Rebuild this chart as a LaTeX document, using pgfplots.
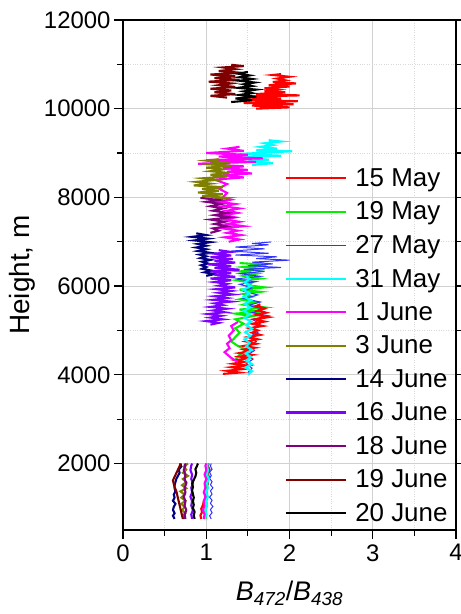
\documentclass[border=0pt]{standalone}
\usepackage{pgfplots}
\pgfplotsset{compat=1.18}
\usepackage{fontspec}
\setmainfont{Liberation Sans}
\definecolor{cRed}{RGB}{255,0,0}
\definecolor{cGreen}{RGB}{0,240,0}
\definecolor{cBlue}{RGB}{50,50,255}
\definecolor{cCyan}{RGB}{0,255,255}
\definecolor{cMag}{RGB}{255,0,255}
\definecolor{cOlive}{RGB}{128,128,0}
\definecolor{cNavy}{RGB}{0,0,128}
\definecolor{cViolet}{RGB}{128,0,255}
\definecolor{cPurple}{RGB}{128,0,128}
\definecolor{cBrown}{RGB}{128,0,0}
\pgfplotsset{thk/.style={line width=2.1bp}, thn/.style={line width=1.0bp}}
\begin{document}
\begin{tikzpicture}
\begin{axis}[
  scale only axis,
  width=333bp, height=510bp,
  xmin=0, xmax=4, ymin=500, ymax=12000,
  xtick={0,1,2,3,4}, minor x tick num=1,
  ytick={2000,4000,6000,8000,10000,12000}, minor y tick num=1,
  scaled y ticks=false, scaled x ticks=false,
  xtick pos=bottom, ytick pos=both,
  tick align=outside,
  major tick length=9bp, minor tick length=6bp,
  every tick/.style={black, line width=1.2bp},
  axis line style={line width=1.6bp},
  grid=both,
  major grid style={color=black!18, line width=0.8bp},
  minor grid style={color=black!15, dotted, line width=0.8bp},
  /pgf/number format/assume math mode=true,
  /pgf/number format/1000 sep={},
  ticklabel style={font=\fontsize{24}{28}\selectfont},
  xticklabel style={yshift=-2bp},
  xlabel={\textit{B}\textsubscript{\textit{472}}/\textit{B}\textsubscript{\textit{438}}},
  ylabel={Height, m},
  xlabel style={font=\fontsize{27}{30}\selectfont, at={(axis description cs:0.5,-0.139)}, anchor=base},
  ylabel style={font=\fontsize{28}{30}\selectfont, at={(axis description cs:-0.303,0.5)}, anchor=center},
  legend cell align=left,
  legend image code/.code={\draw[#1] (0bp,0bp) -- (60bp,0bp);},
  legend style={draw=none, fill=none, font=\fontsize{26}{28}\selectfont,
    anchor=north east, at={(rel axis cs:0.99,0.717)},
    row sep=10bp,
    /tikz/every odd column/.append style={column sep=6bp}},
]
% 15 May
\addplot[color=cRed, thk] coordinates {
(1.60,10000)(2.00,10030)(1.55,10070)(2.05,10100)(1.45,10130)(2.10,10170)(1.40,10200)(1.90,10230)(1.50,10270)(2.12,10300)(1.60,10330)(1.95,10370)(1.70,10400)(1.85,10430)(1.70,10460)(2.00,10500)(1.75,10530)(2.08,10570)(1.80,10600)(1.95,10640)(1.85,10680)(2.00,10720)(1.80,10760)(1.90,10780)};
\addlegendentry{15 May}
% 19 May
\addplot[color=cGreen, thk] coordinates {
(1.35,4350)(1.40,4450)(1.48,4560)(1.38,4650)(1.30,4750)(1.35,4850)(1.40,4950)(1.35,5050)(1.45,5150)(1.35,5250)(1.55,5320)(1.35,5380)(1.65,5420)(1.40,5470)(1.70,5520)(1.45,5580)(1.60,5640)(1.40,5700)(1.55,5760)(1.45,5820)(1.65,5870)(1.40,5920)(1.70,5970)(1.50,6020)(1.55,6080)(1.40,6120)(1.65,6170)(1.45,6230)(1.60,6280)(1.40,6330)(1.70,6380)(1.45,6430)(1.72,6480)(1.40,6520)};
\addlegendentry{19 May}
% 27 May
\addplot[color=cBlue, thn] coordinates {
(1.50,4050)(1.55,4150)(1.48,4250)(1.56,4350)(1.50,4450)(1.58,4550)(1.52,4650)(1.60,4750)(1.50,4850)(1.62,4950)(1.55,5050)(1.65,5150)(1.55,5250)(1.75,5330)(1.55,5400)(1.70,5480)(1.50,5560)(1.65,5640)(1.45,5720)(1.62,5800)(1.45,5880)(1.55,5960)(1.40,6040)(1.60,6100)(1.35,6160)(1.65,6220)(1.40,6280)(1.70,6330)(1.45,6380)(1.90,6420)(1.50,6460)(1.80,6500)(1.55,6540)(2.00,6585)(1.60,6620)(1.85,6660)(1.35,6700)(1.75,6740)(1.30,6790)(1.70,6840)(1.35,6880)(1.75,6930)(1.55,6960)(1.78,6995)};
\addlegendentry{27 May}
% 31 May
\addplot[color=cCyan, thk] coordinates {
(1.55,8730)(1.80,8770)(1.50,8810)(1.75,8850)(1.45,8900)(1.90,8940)(1.40,8980)(2.03,9040)(1.60,9060)(1.85,9100)(1.65,9140)(1.80,9180)(1.70,9220)(1.90,9260)(1.75,9290)};
\addlegendentry{31 May}
% 1 June
\addplot[color=cMag, thk] coordinates {
(1.27,7000)(1.40,7050)(1.22,7100)(1.42,7150)(1.25,7200)(1.38,7250)(1.20,7300)(1.45,7350)(1.25,7400)(1.40,7450)(1.22,7500)(1.35,7550)(1.20,7600)(1.38,7650)(1.25,7700)(1.40,7750)(1.20,7800)(1.35,7850)(1.15,7900)(1.30,7950)(1.20,8000)(1.25,8100)(1.15,8200)(1.25,8300)(1.10,8400)(1.45,8450)(1.20,8500)(1.55,8540)(1.25,8580)(1.50,8620)(1.20,8660)(1.45,8700)(0.90,8760)(1.60,8800)(1.00,8840)(1.68,8880)(1.15,8920)(1.50,8960)(1.00,9000)(1.45,9050)(1.25,9100)(1.40,9140)};
\addlegendentry{1 June}
% 3 June
\addplot[color=cOlive, thk] coordinates {
(1.10,7950)(1.25,7990)(0.95,8030)(1.20,8070)(0.90,8110)(1.15,8150)(0.95,8190)(1.20,8230)(0.85,8270)(1.05,8310)(0.88,8350)(1.10,8390)(0.95,8430)(1.25,8470)(1.05,8510)(1.28,8550)(1.05,8590)(1.20,8630)(1.00,8670)(1.30,8710)(1.05,8750)(1.20,8790)(1.00,8830)(1.15,8860)};
\addlegendentry{3 June}
% 14 June
\addplot[color=cNavy, thk] coordinates {
(1.00,6230)(1.10,6270)(0.98,6310)(1.06,6350)(0.95,6390)(1.00,6430)(0.94,6470)(1.02,6510)(0.95,6550)(1.05,6590)(0.93,6630)(1.00,6670)(0.92,6710)(1.05,6750)(0.90,6790)(1.00,6830)(0.88,6870)(1.00,6910)(0.90,6950)(1.05,6990)(0.86,7030)(1.02,7070)(0.83,7110)(1.00,7150)(0.88,7190)};
\addlegendentry{14 June}
% 16 June
\addplot[color=cViolet, thk] coordinates {
(1.05,5130)(1.15,5170)(1.00,5210)(1.20,5250)(1.05,5290)(1.18,5330)(1.02,5370)(1.22,5410)(1.08,5450)(1.25,5490)(1.05,5530)(1.20,5570)(1.10,5610)(1.30,5650)(1.08,5690)(1.25,5730)(1.10,5770)(1.32,5810)(1.15,5850)(1.30,5890)(1.12,5930)(1.35,5970)(1.15,6010)(1.25,6050)(1.10,6090)(1.30,6130)(1.05,6170)(1.35,6210)(1.10,6250)(1.30,6290)(1.05,6330)(1.40,6370)(1.10,6410)(1.30,6450)(1.02,6490)(1.35,6530)(1.10,6570)(1.32,6610)(1.05,6650)(1.30,6690)(1.10,6730)(1.30,6770)(1.15,6810)};
\addlegendentry{16 June}
% 18 June
\addplot[color=cPurple, thk] coordinates {
(1.05,7200)(1.15,7250)(1.08,7300)(1.25,7350)(1.10,7400)(1.22,7450)(1.05,7500)(1.28,7550)(1.10,7600)(1.25,7650)(1.08,7700)(1.20,7750)(1.05,7800)(1.18,7850)(1.00,7900)(1.15,7940)(0.93,7990)};
\addlegendentry{18 June}
% 19 June
\addplot[color=cBrown, thk] coordinates {
(1.25,10250)(1.05,10290)(1.35,10330)(1.10,10370)(1.30,10410)(1.05,10450)(1.35,10490)(1.15,10530)(1.30,10570)(1.03,10610)(1.40,10650)(1.10,10690)(1.35,10730)(1.05,10770)(1.42,10810)(1.15,10850)(1.35,10890)(1.20,10930)(1.45,10960)(1.30,10990)};
\addlegendentry{19 June}
% 20 June
\addplot[color=black, thk] coordinates {
(1.30,10150)(1.55,10190)(1.35,10230)(1.60,10270)(1.40,10310)(1.55,10350)(1.45,10390)(1.60,10430)(1.38,10470)(1.55,10510)(1.45,10550)(1.58,10590)(1.40,10630)(1.55,10670)(1.40,10710)(1.52,10750)(1.38,10790)(1.50,10830)};
\addlegendentry{20 June}
% ---- further segments (no legend entries) ----
\addplot[color=cRed, thk, forget plot] coordinates {
(1.20,4020)(1.40,4050)(1.25,4090)(1.45,4130)(1.30,4170)(1.48,4210)(1.32,4250)(1.45,4290)(1.35,4330)(1.50,4370)(1.40,4410)(1.55,4450)(1.40,4490)(1.52,4530)(1.45,4570)(1.58,4610)(1.45,4650)(1.60,4700)(1.48,4750)(1.62,4800)(1.50,4850)(1.65,4900)(1.55,4950)(1.62,5000)(1.52,5050)(1.68,5100)(1.55,5150)(1.70,5200)(1.58,5250)(1.75,5300)(1.60,5350)(1.72,5400)(1.62,5450)(1.70,5500)(1.60,5550)(1.65,5590)};
\addplot[color=cCyan, thk, forget plot] coordinates {
(1.50,4000)(1.55,4080)(1.47,4160)(1.55,4240)(1.48,4320)(1.54,4400)(1.47,4480)(1.55,4560)(1.48,4640)(1.52,4720)(1.46,4800)(1.53,4880)(1.47,4960)(1.55,5040)(1.48,5120)(1.54,5200)(1.46,5280)(1.52,5360)(1.45,5440)(1.53,5520)(1.46,5600)(1.54,5680)(1.45,5760)(1.52,5840)(1.44,5920)(1.54,6000)(1.46,6080)(1.52,6160)(1.48,6230)};
\addplot[color=cMag, thk, forget plot] coordinates {
(1.38,4290)(1.30,4380)(1.22,4510)(1.28,4600)(1.25,4700)(1.30,4780)(1.27,4880)(1.33,5000)(1.30,5100)(1.38,5190)};
\addplot[color=cRed, thk, forget plot] coordinates {
(0.94,750)(0.93,830)(0.95,900)(0.94,980)(0.96,1060)(0.97,1140)(0.99,1220)(1.00,1300)(1.01,1380)(1.00,1460)(1.02,1540)(1.01,1620)(1.03,1700)(1.02,1780)(1.04,1860)(1.02,1940)(1.03,2000)};
\addplot[color=cGreen, thk, forget plot] coordinates {
(0.99,750)(1.00,850)(0.99,950)(1.01,1050)(1.00,1150)(1.00,1250)(1.01,1350)(1.00,1450)(1.01,1550)(1.00,1650)(1.01,1750)(1.00,1850)(1.01,1950)(1.00,2000)};
\addplot[color=cBlue, thn, forget plot] coordinates {
(1.06,750)(1.04,820)(1.07,890)(1.05,960)(1.08,1030)(1.05,1100)(1.07,1170)(1.04,1240)(1.07,1310)(1.05,1380)(1.08,1450)(1.05,1520)(1.07,1590)(1.04,1660)(1.06,1730)(1.04,1800)(1.07,1870)(1.05,1940)(1.06,2000)};
\addplot[color=cCyan, thk, forget plot] coordinates {
(0.98,750)(1.00,850)(0.99,950)(1.01,1050)(1.00,1150)(1.02,1250)(1.00,1350)(1.02,1450)(1.01,1550)(1.03,1650)(1.01,1750)(1.02,1850)(1.01,1950)(1.02,2000)};
\addplot[color=cMag, thk, forget plot] coordinates {
(0.97,750)(0.98,850)(0.96,950)(0.98,1050)(0.97,1150)(0.99,1250)(0.97,1350)(0.99,1450)(0.98,1550)(1.00,1650)(0.98,1750)(1.00,1850)(0.99,1950)(1.00,2000)};
\addplot[color=cOlive, thk, forget plot] coordinates {
(0.74,750)(0.72,820)(0.75,880)(0.71,950)(0.74,1020)(0.70,1090)(0.75,1160)(0.70,1230)(0.74,1300)(0.69,1370)(0.76,1440)(0.71,1510)(0.76,1580)(0.72,1650)(0.78,1720)(0.72,1790)(0.76,1860)(0.73,1930)(0.78,2000)};
\addplot[color=cNavy, thk, forget plot] coordinates {
(0.62,750)(0.60,820)(0.62,880)(0.60,950)(0.61,1020)(0.63,1090)(0.60,1160)(0.62,1230)(0.61,1300)(0.63,1370)(0.62,1440)(0.62,1510)(0.63,1580)(0.64,1650)(0.66,1720)(0.68,1790)(0.67,1860)(0.70,1930)(0.69,2000)};
\addplot[color=cViolet, thk, forget plot] coordinates {
(0.83,750)(0.82,850)(0.84,950)(0.82,1050)(0.83,1150)(0.81,1250)(0.83,1350)(0.82,1450)(0.84,1550)(0.82,1650)(0.83,1750)(0.81,1850)(0.82,1950)(0.83,2000)};
\addplot[color=cPurple, thk, forget plot] coordinates {
(0.75,750)(0.74,850)(0.76,950)(0.74,1050)(0.75,1150)(0.73,1250)(0.75,1350)(0.74,1450)(0.76,1550)(0.74,1650)(0.75,1750)(0.73,1850)(0.75,1950)(0.74,2000)};
\addplot[color=cBrown, thk, forget plot] coordinates {
(0.72,750)(0.71,820)(0.70,900)(0.69,980)(0.68,1060)(0.67,1140)(0.66,1220)(0.65,1300)(0.64,1380)(0.62,1460)(0.61,1540)(0.60,1620)(0.62,1700)(0.64,1780)(0.66,1860)(0.68,1940)(0.69,2000)};
\addplot[color=black, thk, forget plot] coordinates {
(0.86,750)(0.85,830)(0.86,910)(0.84,990)(0.85,1070)(0.84,1150)(0.85,1230)(0.84,1310)(0.83,1390)(0.84,1470)(0.83,1550)(0.85,1630)(0.87,1710)(0.88,1790)(0.87,1870)(0.89,1950)(0.90,2000)};
\end{axis}
\pgfresetboundingbox
\useasboundingbox ([xshift=-123bp,yshift=-84bp]current axis.south west) rectangle ([xshift=5bp,yshift=20bp]current axis.north east);
\end{tikzpicture}
\end{document}
